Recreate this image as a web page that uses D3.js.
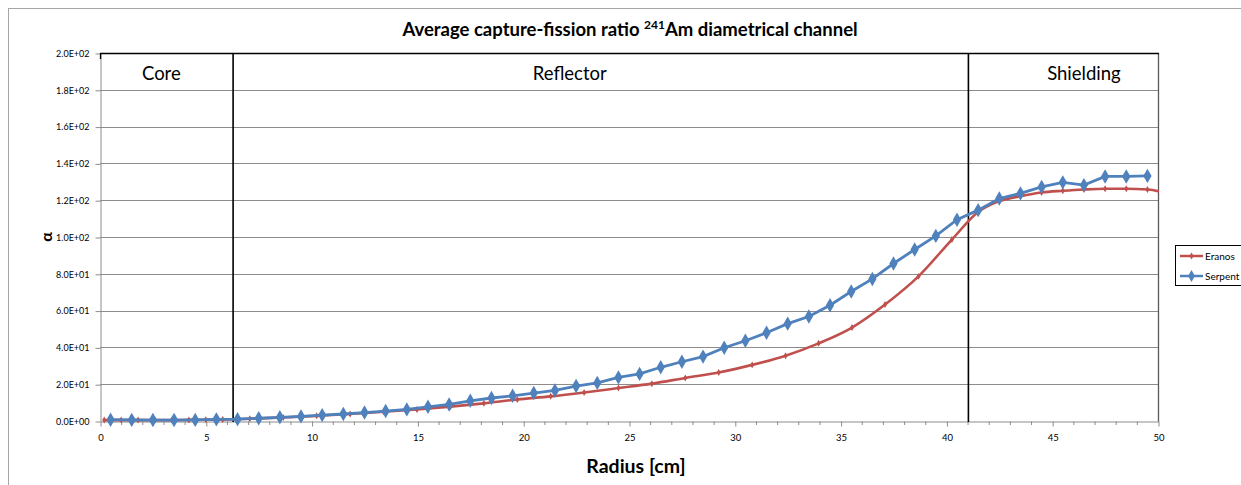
<!DOCTYPE html>
<html>
<head>
<meta charset="utf-8">
<script src="https://cdn.jsdelivr.net/npm/d3@7/dist/d3.min.js"></script>
<style>
  html, body { margin: 0; padding: 0; background: #fff; }
  svg { display: block; font-family: "Lato", "Liberation Sans", sans-serif; }
</style>
</head>
<body>
<svg id="chart" width="1241" height="485"></svg>
<script>
// ---- data ----
const serpentX = [0.5,1.5,2.5,3.5,4.5,5.5,6.5,7.5,8.5,9.5,10.5,11.5,12.5,13.5,14.5,15.5,16.5,17.5,18.5,19.5,20.5,21.5,22.5,23.5,24.5,25.5,26.5,27.5,28.5,29.5,30.5,31.5,32.5,33.5,34.5,35.5,36.5,37.5,38.5,39.5,40.5,41.5,42.5,43.5,44.5,45.5,46.5,47.5,48.5,49.5];
const serpentY = [0.7,0.6,0.5,0.5,0.6,0.9,1.0,1.5,2.0,2.5,3.2,3.8,4.6,5.4,6.3,7.7,9.0,11.0,12.5,13.7,15.2,16.6,19.0,20.7,23.7,25.6,29.2,32.2,35.0,39.8,43.6,48.0,52.9,56.8,62.9,70.4,77.2,85.6,93.2,100.6,109.4,114.6,120.9,123.7,127.2,129.7,128.2,132.9,132.9,133.2];

const eranosX = [0.2,1.0,1.8,2.6,3.4,4.2,5.0,5.8,7.08,8.66,10.24,11.82,13.40,14.98,16.56,18.14,19.72,21.30,22.88,24.50,26.08,27.66,29.24,30.82,32.40,33.96,35.54,37.10,38.68,40.26,41.5,42.5,43.5,44.5,45.5,46.5,47.5,48.5,49.5,50.5];
const eranosY = [0.5,0.5,0.5,0.5,0.5,0.6,0.7,0.8,1.2,1.9,2.8,3.8,5.0,6.3,7.8,9.6,11.7,13.4,15.5,17.9,20.3,23.4,26.4,30.5,35.5,42.2,50.8,63.3,78.6,98.6,113.6,119.5,122.2,124.2,125.1,125.8,126.2,126.2,125.8,123.6];

const seriesNames = ["Eranos", "Serpent"];
const seriesColors = ["#C0504D", "#4F81BD"];

const regionBounds = [6.29, 41.04];
const regionLabels = ["Core", "Reflector", "Shielding"];
const regionLabelX = [2.9, 22.2, 46.5];

const xTicks = [0,5,10,15,20,25,30,35,40,45,50];
const yTicks = [0,20,40,60,80,100,120,140,160,180,200];

const titleMain = "Average capture-fission ratio ";
const titleSup = "241";
const titleRest = "Am diametrical channel";
const xTitle = "Radius [cm]";
const yTitle = "α";

// ---- layout ----
const svg = d3.select("#chart");
const L = 100, R = 1158, T = 53, B = 421;
const x = d3.scaleLinear().domain([0, 50]).range([L, R]);
const y = d3.scaleLinear().domain([0, 200]).range([B, T]);

// outer chart border
svg.append("rect").attr("x", 8.5).attr("y", 8.5).attr("width", 1300).attr("height", 600)
  .attr("fill", "#fff").attr("stroke", "#a6a6a6").attr("stroke-width", 1);

// gridlines
svg.append("g").selectAll("line").data(yTicks.slice(1)).join("line")
  .attr("x1", L).attr("x2", R)
  .attr("y1", d => Math.round(y(d)) + 0.5).attr("y2", d => Math.round(y(d)) + 0.5)
  .attr("stroke", "#8c8c8c").attr("stroke-width", 1);

// y axis
const yAxis = d3.axisLeft(y).tickValues(yTicks).tickSize(5).tickSizeOuter(0)
  .tickFormat(d => d3.format(".1e")(d).replace("e+", "E+0").replace("e-", "E-0").toUpperCase());
const gy = svg.append("g").attr("transform", `translate(${L + 0.5},0.5)`).call(yAxis);
gy.select(".domain").attr("stroke", "#8c8c8c");
gy.selectAll(".tick line").attr("stroke", "#8c8c8c");
gy.selectAll(".tick text").attr("font-size", 9).attr("fill", "#000").attr("dx", -3)
  .attr("font-family", "Lato, 'Liberation Sans', sans-serif");

// x axis
const xAxis = d3.axisBottom(x).tickValues(xTicks).tickSize(5).tickSizeOuter(0).tickPadding(8)
  .tickFormat(d3.format("d"));
const gx = svg.append("g").attr("transform", `translate(0.5,${B + 0.5})`).call(xAxis);
gx.select(".domain").attr("stroke", "#8c8c8c");
gx.selectAll(".tick line").attr("stroke", "#8c8c8c");
gx.selectAll(".tick text").attr("font-size", 9.5).attr("fill", "#000")
  .attr("font-family", "Lato, 'Liberation Sans', sans-serif");
// minor ticks
svg.append("g").selectAll("line").data(d3.range(0, 51).filter(v => v % 5 !== 0)).join("line")
  .attr("x1", d => x(d) + 0.5).attr("x2", d => x(d) + 0.5)
  .attr("y1", B + 0.5).attr("y2", B + 4)
  .attr("stroke", "#8c8c8c");

// right plot border
svg.append("line").attr("x1", R + 0.5).attr("x2", R + 0.5).attr("y1", T).attr("y2", B + 0.5)
  .attr("stroke", "#595959").attr("stroke-width", 1.3);

// region boxes
svg.append("line").attr("x1", L).attr("x2", R + 1).attr("y1", T + 0.5).attr("y2", T + 0.5)
  .attr("stroke", "#000").attr("stroke-width", 1.3);
svg.append("line").attr("x1", L + 0.5).attr("x2", L + 0.5).attr("y1", T).attr("y2", T + 6)
  .attr("stroke", "#000").attr("stroke-width", 1.3);
svg.append("g").selectAll("line").data(regionBounds).join("line")
  .attr("x1", d => x(d)).attr("x2", d => x(d)).attr("y1", T).attr("y2", B + 1)
  .attr("stroke", "#000").attr("stroke-width", 1.6);
svg.append("g").selectAll("text").data(regionLabels).join("text")
  .attr("x", (d, i) => x(regionLabelX[i])).attr("y", 80)
  .attr("text-anchor", "middle").attr("font-size", 18.5).attr("fill", "#000")
  .text(d => d);

// clip
svg.append("clipPath").attr("id", "plotclip").append("rect")
  .attr("x", L).attr("y", T - 10).attr("width", R - L + 1).attr("height", B - T + 20);

const series = [
  { name: seriesNames[0], xs: eranosX, ys: eranosY, color: seriesColors[0] },
  { name: seriesNames[1], xs: serpentX, ys: serpentY, color: seriesColors[1] }
];

const line = d3.line().x(d => x(d[0])).y(d => y(d[1])).curve(d3.curveMonotoneX);
const plot = svg.append("g").attr("clip-path", "url(#plotclip)");

// Eranos
const e = series[0];
const eData = e.xs.map((v, i) => [v, e.ys[i]]);
plot.append("path").datum(eData).attr("d", line).attr("fill", "none")
  .attr("stroke", e.color).attr("stroke-width", 2.6);
plot.append("g").selectAll("path").data(eData).join("path")
  .attr("d", d3.symbol(d3.symbolDiamond, 14))
  .attr("transform", d => `translate(${x(d[0])},${y(d[1])})`)
  .attr("fill", e.color);

// Serpent
const s = series[1];
const sData = s.xs.map((v, i) => [v, s.ys[i]]);
plot.append("path").datum(sData).attr("d", d3.line().x(d => x(d[0])).y(d => y(d[1])))
  .attr("fill", "none").attr("stroke", s.color).attr("stroke-width", 2.8);
plot.append("g").selectAll("path").data(sData).join("path")
  .attr("d", d3.symbol(d3.symbolDiamond, 60))
  .attr("transform", d => `translate(${x(d[0])},${y(d[1])})`)
  .attr("fill", s.color);

// Title
const title = svg.append("text").attr("x", 630).attr("y", 36).attr("text-anchor", "middle")
  .attr("font-size", 18.5).attr("font-weight", "bold").attr("fill", "#000");
title.append("tspan").text(titleMain);
title.append("tspan").attr("font-size", 12).attr("dy", -7).text(titleSup);
title.append("tspan").attr("dy", 7).text(titleRest);

// axis titles
svg.append("text").attr("x", 636).attr("y", 473).attr("text-anchor", "middle")
  .attr("font-size", 19.5).attr("font-weight", "bold").text(xTitle);
svg.append("text").attr("transform", `translate(52,${y(100)}) rotate(-90)`)
  .attr("text-anchor", "middle").attr("font-size", 16).attr("font-weight", "bold").text(yTitle);

// legend
const lg = svg.append("g");
lg.append("rect").attr("x", 1175.5).attr("y", 245.5).attr("width", 80).attr("height", 40)
  .attr("fill", "#fff").attr("stroke", "#000").attr("stroke-width", 1);
series.forEach((sr, i) => {
  const ly = 256 + i * 20;
  lg.append("line").attr("x1", 1180).attr("x2", 1203).attr("y1", ly).attr("y2", ly)
    .attr("stroke", sr.color).attr("stroke-width", 2.5);
  lg.append("path").attr("d", d3.symbol(d3.symbolDiamond, i === 0 ? 14 : 40))
    .attr("transform", `translate(1191.5,${ly})`).attr("fill", sr.color);
  lg.append("text").attr("x", 1205).attr("y", ly + 3.5).attr("font-size", 10).text(sr.name);
});
</script>
</body>
</html>
